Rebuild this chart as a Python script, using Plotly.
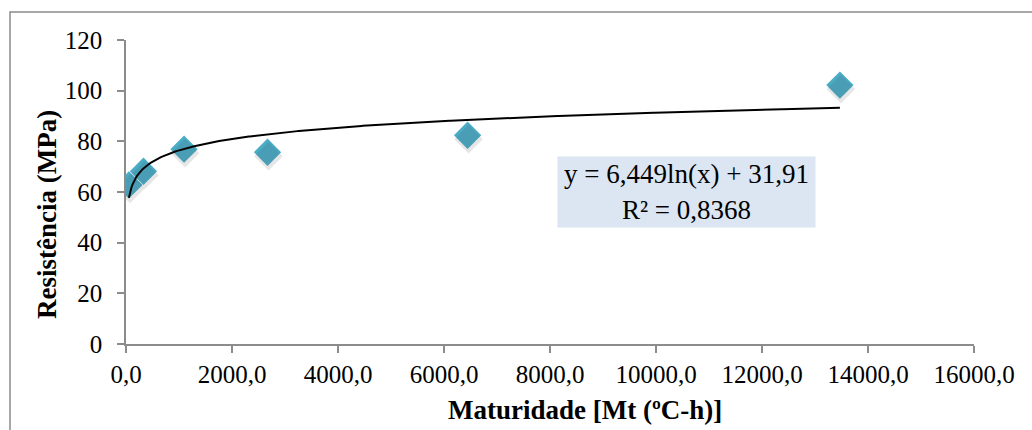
import plotly.graph_objects as go
import numpy as np

# Maturity (ºC-h) and compressive strength (MPa)
maturidade = [55, 330, 1095, 2670, 6445, 13470]
resistencia = [62.8, 68.2, 76.9, 75.7, 82.4, 102.2]

# Logarithmic trendline coefficients
coef_a = 6.449
coef_b = 31.91
r2 = 0.8368

x_ticks = [0, 2000, 4000, 6000, 8000, 10000, 12000, 14000, 16000]
x_tick_text = ["0,0", "2000,0", "4000,0", "6000,0", "8000,0", "10000,0", "12000,0", "14000,0", "16000,0"]
y_ticks = [0, 20, 40, 60, 80, 100, 120]

W, H = 1032, 430
L, R, T, B = 126, 58, 40, 86
plot_w, plot_h = W - L - R, H - T - B

x_fit = np.linspace(min(maturidade), max(maturidade), 600)
y_fit = coef_a * np.log(x_fit) + coef_b

font_family = "Liberation Serif, Times New Roman, serif"
axis_grey = "#8c8c8c"
marker_color = "#4bacc6"
tick_size = 25
text_size = 27

fig = go.Figure()

# soft drop shadow under the markers (same data on a slightly shifted axis)
fig.add_trace(go.Scatter(
    x=maturidade, y=resistencia, mode="markers", yaxis="y2", xaxis="x2",
    marker=dict(symbol="diamond", size=22, color="rgba(60,60,60,0.13)", line=dict(width=0)),
    hoverinfo="skip", showlegend=False,
))

fig.add_trace(go.Scatter(
    x=maturidade, y=resistencia, mode="markers",
    marker=dict(symbol="diamond", size=21, color=marker_color, line=dict(width=0)),
    showlegend=False,
))

fig.add_trace(go.Scatter(
    x=x_fit, y=y_fit, mode="lines",
    line=dict(color="black", width=2),
    showlegend=False,
))

px_per_unit = plot_h / 120.0
shift_y = 4.0 / px_per_unit
shift_x = 1.0 * 16000.0 / plot_w

fig.update_layout(
    width=W, height=H,
    margin=dict(l=L, r=R, t=T, b=B),
    paper_bgcolor="white", plot_bgcolor="rgba(0,0,0,0)",
    font=dict(family=font_family, size=tick_size, color="black"),
    xaxis=dict(
        range=[0, 16000], tickvals=x_ticks, ticktext=x_tick_text,
        showgrid=False, zeroline=False, showline=True, linecolor=axis_grey, linewidth=1.5,
        ticks="outside", ticklen=7, tickcolor=axis_grey, tickwidth=1.5,
        tickfont=dict(family=font_family, size=tick_size, color="black"),
    ),
    yaxis=dict(
        range=[0, 120], tickvals=y_ticks,
        showgrid=False, zeroline=False, showline=True, linecolor=axis_grey, linewidth=1.5,
        ticks="outside", ticklen=7, tickcolor=axis_grey, tickwidth=1.5,
        tickfont=dict(family=font_family, size=tick_size, color="black"),
        ticklabelstandoff=10,
    ),
    xaxis2=dict(range=[0 - shift_x, 16000 - shift_x], overlaying="x", visible=False),
    yaxis2=dict(range=[0 + shift_y, 120 + shift_y], overlaying="y", visible=False),
    shapes=[
        dict(type="rect", xref="paper", yref="paper",
             x0=(10 - L) / plot_w, x1=(W + 5 - L) / plot_w,
             y0=-(B + 5) / plot_h, y1=(H - B - 12) / plot_h,
             line=dict(color="#8a8a8a", width=1.5), layer="below"),
    ],
    annotations=[
        dict(text="y = 6,449ln(x) + 31,91<br>R² = 0,8368",
             xref="paper", yref="paper",
             x=(686.5 - L) / plot_w, y=(H - B - 192) / plot_h,
             xanchor="center", yanchor="middle", showarrow=False,
             width=257, height=70, align="center", valign="middle",
             bgcolor="#dce6f2", borderpad=0,
             font=dict(family=font_family, size=text_size, color="black")),
        dict(text="<b>Maturidade [Mt (ºC-h)]</b>",
             xref="paper", yref="paper",
             x=(585 - L) / plot_w, y=-(410 - (H - B)) / plot_h,
             xanchor="center", yanchor="middle", showarrow=False,
             font=dict(family=font_family, size=text_size, color="black")),
        dict(text="<b>Resistência (MPa)</b>",
             xref="paper", yref="paper",
             x=(47 - L) / plot_w, y=(H - B - 215) / plot_h,
             xanchor="center", yanchor="middle", showarrow=False, textangle=-90,
             font=dict(family=font_family, size=text_size, color="black")),
    ],
)

fig.write_html("out.html")
